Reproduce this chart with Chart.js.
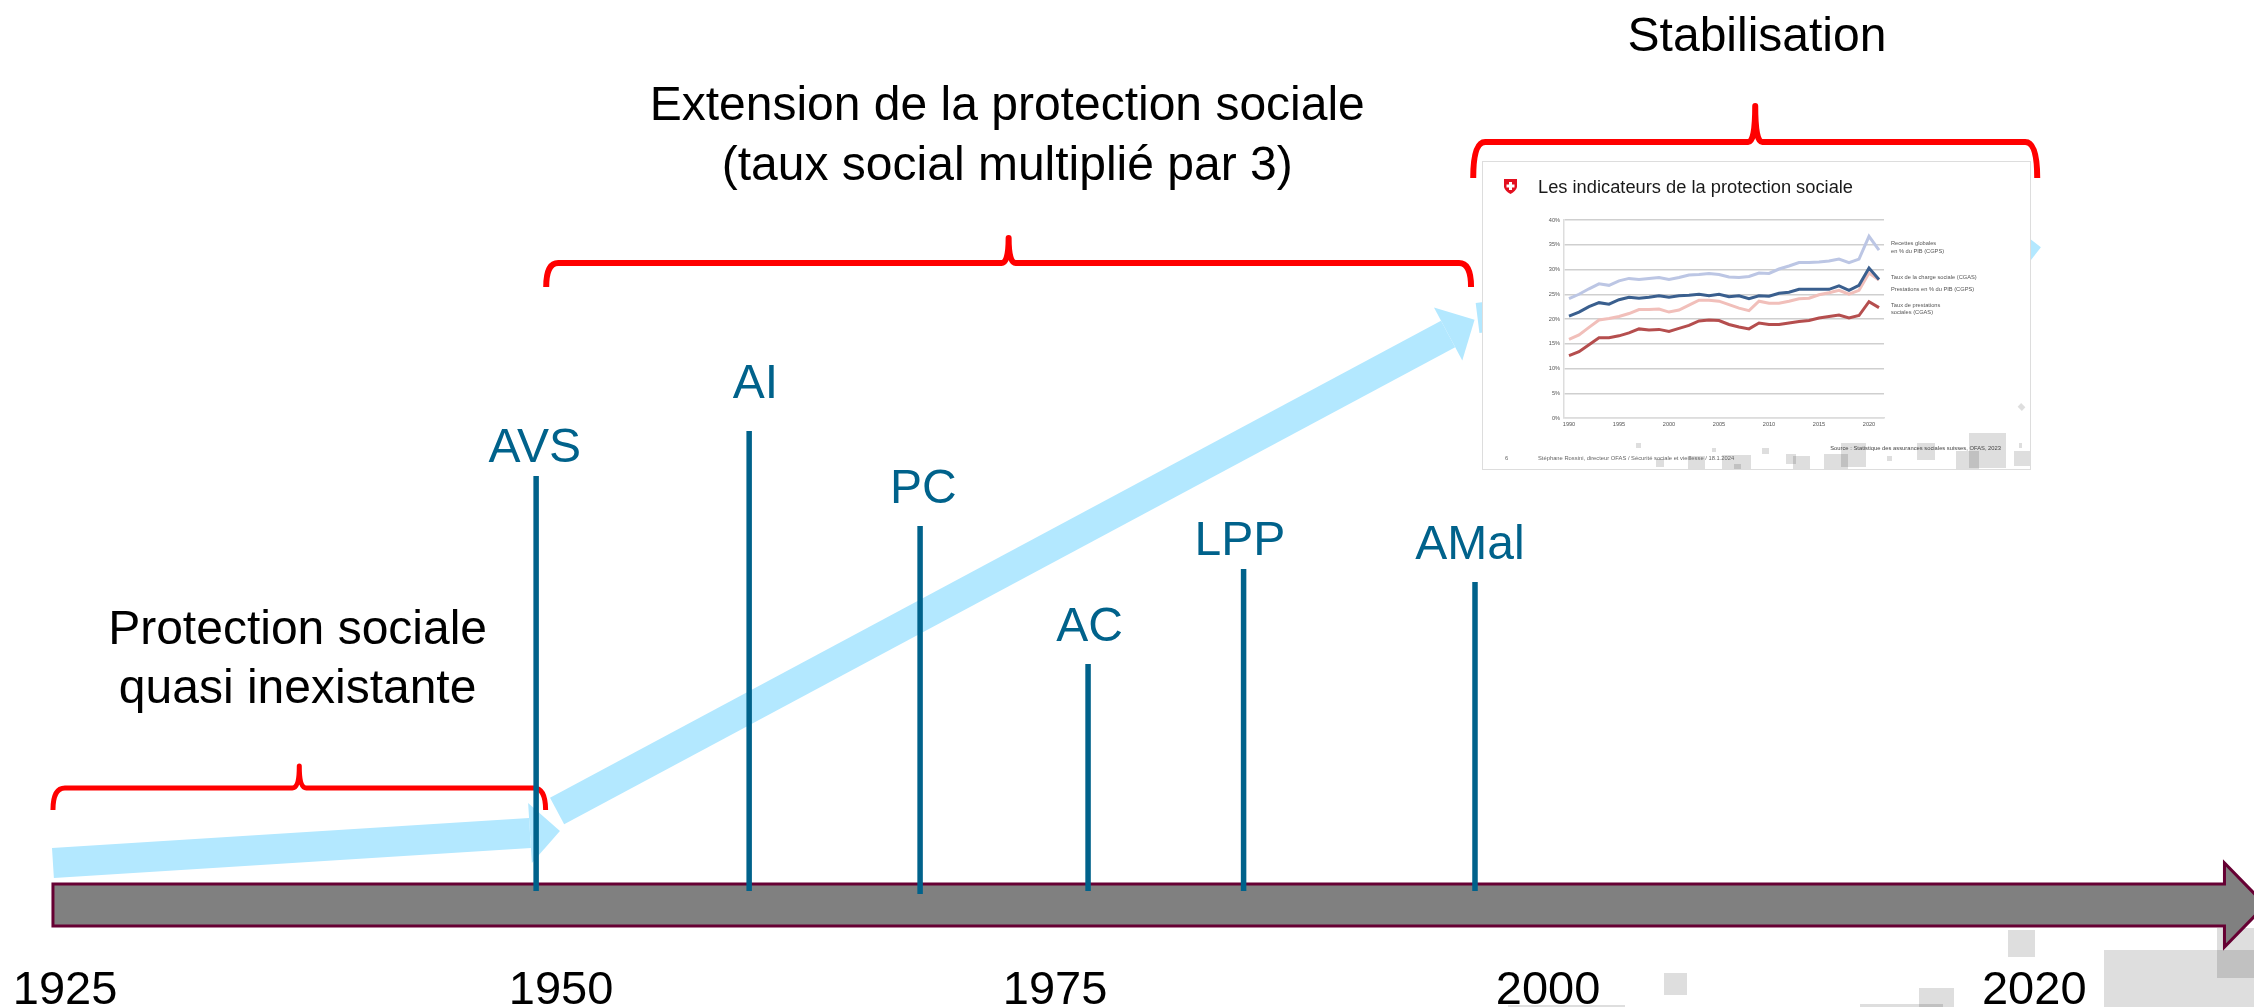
<!DOCTYPE html>
<html lang="fr">
<head>
<meta charset="utf-8">
<title>Protection sociale</title>
<script src="https://cdn.jsdelivr.net/npm/chart.js@4"></script>
<style>
html, body { margin: 0; padding: 0; background: #fff; overflow: hidden; }
#page { position: relative; width: 2254px; height: 1007px; overflow: hidden; }
#timeline { position: absolute; left: 0; top: 0; }
.sq { position: absolute; background: rgba(0,0,0,.13); }
#slide { position: absolute; left: 1482px; top: 161px; width: 547px; height: 307px; background: #fff; border: 1.5px solid #ddd; filter: blur(.7px); overflow: hidden; }
#slide canvas { position: absolute; left: 0; top: 0; }
</style>
</head>
<body>
<div id="page">
  <!-- carres decoratifs du fond -->
  <div class="sq" style="left:1664px;top:973px;width:23px;height:22px"></div>
  <div class="sq" style="left:1508px;top:1005px;width:117px;height:2px"></div>
  <div class="sq" style="left:1860px;top:1004px;width:83px;height:3px"></div>
  <div class="sq" style="left:1919px;top:988px;width:35px;height:19px"></div>
  <div class="sq" style="left:2008px;top:930px;width:27px;height:27px"></div>
  <div class="sq" style="left:2104px;top:950px;width:150px;height:57px"></div>
  <div class="sq" style="left:2217px;top:928px;width:37px;height:50px"></div>
  <canvas id="timeline" width="2254" height="1007"></canvas>
  <div id="slide">
    <div class="sq" style="left:153px;top:281px;width:5px;height:5px"></div>
    <div class="sq" style="left:229px;top:286px;width:4px;height:4px"></div>
    <div class="sq" style="left:173px;top:297px;width:8px;height:8px"></div>
    <div class="sq" style="left:205px;top:294px;width:17px;height:15px"></div>
    <div class="sq" style="left:239px;top:293px;width:29px;height:16px"></div>
    <div class="sq" style="left:251px;top:302px;width:7px;height:7px"></div>
    <div class="sq" style="left:279px;top:286px;width:7px;height:6px"></div>
    <div class="sq" style="left:303px;top:292px;width:10px;height:10px"></div>
    <div class="sq" style="left:310px;top:294px;width:17px;height:15px"></div>
    <div class="sq" style="left:341px;top:292px;width:24px;height:17px"></div>
    <div class="sq" style="left:358px;top:281px;width:25px;height:24px"></div>
    <div class="sq" style="left:404px;top:294px;width:5px;height:5px"></div>
    <div class="sq" style="left:434px;top:281px;width:18px;height:17px"></div>
    <div class="sq" style="left:473px;top:289px;width:23px;height:20px"></div>
    <div class="sq" style="left:486px;top:271px;width:37px;height:35px"></div>
    <div class="sq" style="left:531px;top:289px;width:16px;height:15px"></div>
    <div class="sq" style="left:536px;top:281px;width:3px;height:5px"></div>
    <div class="sq" style="left:536px;top:242px;width:5px;height:6px;transform:rotate(-45deg)"></div>
    <canvas id="indicators" width="547" height="307"></canvas>
  </div>
</div>
<script>
// frise chronologique
const eventNames = ['AVS', 'AI', 'PC', 'AC', 'LPP', 'AMal'];
const eventYears = [1948.99, 1959.77, 1968.42, 1976.92, 1984.79, 1996.5];
const eventLabelYears = [1948.92, 1960.09, 1968.58, 1977.0, 1984.6, 1996.24];
const eventTops = [484, 529, 434, 296, 391, 378];
const eventBottoms = [69, 69, 66, 69, 69, 69];
const eventLabelLevels = [511, 575, 470, 332, 418, 414];

const tickYears = [1925.15, 1950.25, 1975.25, 2000.2, 2024.8];
const tickLabels = ['1925', '1950', '1975', '2000', '2020'];

// fleches bleues : debut et base de la pointe
const arrowStartYears = [1924.54, 1950.05, 1996.63];
const arrowStartLevels = [97, 149, 642];
const arrowBaseYears = [1948.68, 1995.14, 2023.63];
const arrowBaseLevels = [127, 626, 709];

// accolades rouges
const braceFrom = [1924.54, 1949.5, 1996.41];
const braceTo = [1949.47, 1996.3, 2024.95];
const braceLevels = [172, 697, 818];
const braceEnds = [150, 673, 782];
const bracePips = [194, 722, 854];
const braceWidths = [5, 6, 6];

const captionLines = ['Protection sociale', 'quasi inexistante', 'Extension de la protection sociale', '(taux social multiplié par 3)', 'Stabilisation'];
const captionYears = [1936.92, 1936.92, 1972.83, 1972.83, 2010.77];
const captionLevels = [329, 270, 853, 793, 922];

const timelineFrom = 1924.54;
const timelineTo = 2036.5;
const timelineLevel = [34, 76];

// petit graphique des indicateurs
const indicatorYears = ['1990','1991','1992','1993','1994','1995','1996','1997','1998','1999','2000','2001','2002','2003','2004','2005','2006','2007','2008','2009','2010','2011','2012','2013','2014','2015','2016','2017','2018','2019','2020','2021'];
const recettesGlobales = [24.1, 25.0, 26.1, 27.1, 26.8, 27.7, 28.2, 28.0, 28.2, 28.4, 28.0, 28.4, 28.9, 29.0, 29.2, 29.0, 28.5, 28.4, 28.6, 29.3, 29.2, 30.1, 30.7, 31.4, 31.4, 31.5, 31.7, 32.1, 31.4, 32.1, 36.7, 33.9];
const chargeSociale = [20.6, 21.4, 22.5, 23.3, 23.0, 23.9, 24.4, 24.2, 24.4, 24.7, 24.4, 24.7, 24.8, 25.0, 24.7, 25.0, 24.5, 24.7, 24.1, 24.7, 24.6, 25.2, 25.4, 26.0, 26.0, 26.0, 26.0, 26.7, 25.8, 26.8, 30.3, 28.0];
const prestationsPib = [15.9, 16.8, 18.3, 19.8, 20.1, 20.5, 21.1, 21.9, 21.9, 22.0, 21.4, 21.8, 22.8, 23.8, 23.8, 23.6, 22.9, 22.2, 21.7, 23.6, 23.2, 23.2, 23.6, 24.1, 24.2, 24.9, 25.3, 25.8, 25.0, 25.8, 29.3, 27.9];
const prestationsSociales = [12.6, 13.4, 14.8, 16.2, 16.2, 16.6, 17.2, 18.0, 17.8, 17.9, 17.5, 18.1, 18.7, 19.6, 19.8, 19.7, 18.9, 18.4, 18.0, 19.2, 18.9, 18.9, 19.2, 19.5, 19.7, 20.2, 20.5, 20.8, 20.2, 20.7, 23.5, 22.3];

const BLUE = '#b3e8ff';
const TEAL = '#00628b';
const RED = '#ff0000';
const FONT = '"Liberation Sans", Arial, sans-serif';

function drawBrace(ctx, x0, x1, yLine, yEnd, yPip, width) {
    const cx = (x0 + x1) / 2;
    ctx.save();
    ctx.strokeStyle = RED;
    ctx.lineWidth = width;
    ctx.lineCap = 'butt';
    ctx.lineJoin = 'round';
    ctx.beginPath();
    ctx.moveTo(x0, yEnd);
    ctx.quadraticCurveTo(x0, yLine, x0 + 12, yLine);
    ctx.lineTo(cx - 7, yLine);
    ctx.quadraticCurveTo(cx, yLine, cx, yPip);
    ctx.quadraticCurveTo(cx, yLine, cx + 7, yLine);
    ctx.lineTo(x1 - 12, yLine);
    ctx.quadraticCurveTo(x1, yLine, x1, yEnd);
    ctx.stroke();
    ctx.restore();
}

// fleche grise, pointes bleues et accolades sous les traits
const underlayPlugin = {
    id: 'underlay',
    beforeDatasetsDraw(chart) {
        const { ctx, scales: { x, y } } = chart;
        const left = x.getPixelForValue(timelineFrom);
        const tip = x.getPixelForValue(timelineTo);
        const top = y.getPixelForValue(timelineLevel[1]);
        const bottom = y.getPixelForValue(timelineLevel[0]);
        const mid = (top + bottom) / 2;
        const shoulder = tip - 41;
        ctx.save();
        ctx.beginPath();
        ctx.moveTo(left, top);
        ctx.lineTo(shoulder, top);
        ctx.lineTo(shoulder, mid - 42);
        ctx.lineTo(tip, mid);
        ctx.lineTo(shoulder, mid + 42);
        ctx.lineTo(shoulder, bottom);
        ctx.lineTo(left, bottom);
        ctx.closePath();
        ctx.fillStyle = '#808080';
        ctx.fill();
        ctx.strokeStyle = '#660033';
        ctx.lineWidth = 3;
        ctx.stroke();

        ctx.fillStyle = BLUE;
        arrowBaseYears.forEach((year, i) => {
            const bx = x.getPixelForValue(year);
            const by = y.getPixelForValue(arrowBaseLevels[i]);
            const sx = x.getPixelForValue(arrowStartYears[i]);
            const sy = y.getPixelForValue(arrowStartLevels[i]);
            const angle = Math.atan2(by - sy, bx - sx);
            ctx.save();
            ctx.translate(bx, by);
            ctx.rotate(angle);
            ctx.beginPath();
            ctx.moveTo(30, 0);
            ctx.lineTo(0, -30);
            ctx.lineTo(0, 30);
            ctx.closePath();
            ctx.fill();
            ctx.restore();
        });
        ctx.restore();

        braceFrom.forEach((from, i) => {
            drawBrace(ctx, x.getPixelForValue(from), x.getPixelForValue(braceTo[i]),
                y.getPixelForValue(braceLevels[i]), y.getPixelForValue(braceEnds[i]),
                y.getPixelForValue(bracePips[i]), braceWidths[i]);
        });
    }
};

// textes de la frise
const labelsPlugin = {
    id: 'timelineLabels',
    afterDatasetsDraw(chart) {
        const { ctx, scales: { x, y } } = chart;
        ctx.save();
        ctx.font = '48px ' + FONT;
        ctx.textAlign = 'center';
        ctx.textBaseline = 'middle';
        ctx.fillStyle = '#000';
        captionLines.forEach((line, i) => {
            ctx.fillText(line, x.getPixelForValue(captionYears[i]), y.getPixelForValue(captionLevels[i]));
        });
        ctx.fillStyle = TEAL;
        eventNames.forEach((name, i) => {
            ctx.fillText(name, x.getPixelForValue(eventLabelYears[i]), y.getPixelForValue(eventLabelLevels[i]));
        });
        ctx.restore();
    }
};

const eventDatasets = eventNames.map((name, i) => ({
    label: name,
    data: [{ x: eventYears[i], y: eventBottoms[i] }, { x: eventYears[i], y: eventTops[i] }],
    borderColor: TEAL,
    borderWidth: 5.5,
    pointRadius: 0
}));

const arrowDatasets = arrowBaseYears.map((year, i) => ({
    label: 'Tendance ' + (i + 1),
    data: [{ x: arrowStartYears[i], y: arrowStartLevels[i] }, { x: year, y: arrowBaseLevels[i] }],
    borderColor: BLUE,
    borderWidth: 30,
    borderCapStyle: 'butt',
    pointRadius: 0
}));

new Chart(document.getElementById('timeline'), {
    type: 'line',
    data: { datasets: eventDatasets.concat(arrowDatasets) },
    plugins: [underlayPlugin, labelsPlugin],
    options: {
        responsive: false,
        animation: false,
        events: [],
        layout: { padding: 0 },
        plugins: { legend: { display: false }, tooltip: { enabled: false } },
        scales: {
            x: {
                type: 'linear',
                min: 1921.86,
                max: 2035.92,
                border: { display: false },
                grid: { display: false, drawTicks: false },
                afterBuildTicks: scale => { scale.ticks = tickYears.map(v => ({ value: v })); },
                afterFit: scale => { scale.height = 47; },
                ticks: {
                    autoSkip: false,
                    maxRotation: 0,
                    padding: 3,
                    color: '#000',
                    font: { family: FONT, size: 47 },
                    callback: (value, index) => tickLabels[index]
                }
            },
            y: { display: false, min: 0, max: 960 }
        }
    }
});

// diapositive en vignette
const slidePlugin = {
    id: 'slideTexts',
    afterDraw(chart) {
        const ctx = chart.ctx;
        ctx.save();
        // ecusson
        ctx.fillStyle = '#e30f1f';
        ctx.beginPath();
        ctx.moveTo(21, 17);
        ctx.lineTo(34, 17);
        ctx.lineTo(34, 25);
        ctx.quadraticCurveTo(33, 29, 27.5, 32);
        ctx.quadraticCurveTo(22, 29, 21, 25);
        ctx.closePath();
        ctx.fill();
        ctx.fillStyle = '#fff';
        ctx.fillRect(26, 20, 3, 8);
        ctx.fillRect(23.5, 22.5, 8, 3);

        ctx.textBaseline = 'middle';
        ctx.fillStyle = '#1a1a1a';
        ctx.font = '18.3px ' + FONT;
        ctx.fillText('Les indicateurs de la protection sociale', 55, 26);

        ctx.fillStyle = '#555';
        ctx.font = '5.7px ' + FONT;
        ctx.fillText('Recettes globales', 408, 81);
        ctx.fillText('en % du PIB (CGPS)', 408, 89);
        ctx.fillText('Taux de la charge sociale (CGAS)', 408, 115);
        ctx.fillText('Prestations en % du PIB (CGPS)', 408, 127);
        ctx.fillText('Taux de prestations', 408, 143);
        ctx.fillText('sociales (CGAS)', 408, 150);

        ctx.fillStyle = '#666';
        ctx.font = '5.8px ' + FONT;
        ctx.fillText('6', 22, 296);
        ctx.fillText('Stéphane Rossini, directeur OFAS / Sécurité sociale et vieillesse / 18.1.2024', 55, 296);
        ctx.textAlign = 'right';
        ctx.fillStyle = '#444';
        ctx.fillText('Source : Statistique des assurances sociales suisses, OFAS, 2023', 518, 286);
        ctx.restore();
    }
};

function indicatorSeries(label, values, color) {
    return { label, data: values, borderColor: color, borderWidth: 3, pointRadius: 0, tension: 0 };
}

new Chart(document.getElementById('indicators'), {
    type: 'line',
    data: {
        labels: indicatorYears,
        datasets: [
            indicatorSeries('Taux de prestations sociales (CGAS)', prestationsSociales, '#b54e4e'),
            indicatorSeries('Taux de la charge sociale (CGAS)', chargeSociale, '#3a5f8e'),
            indicatorSeries('Prestations en % du PIB (CGPS)', prestationsPib, '#f1bfba'),
            indicatorSeries('Recettes globales en % du PIB (CGPS)', recettesGlobales, '#bcc6e4')
        ]
    },
    plugins: [slidePlugin],
    options: {
        responsive: false,
        animation: false,
        events: [],
        layout: { padding: { top: 58, right: 146, left: 0, bottom: 0 } },
        plugins: { legend: { display: false }, tooltip: { enabled: false } },
        scales: {
            x: {
                offset: true,
                afterFit: scale => { scale.height = 51; },
                border: { color: '#ddd', width: 1.5 },
                grid: { display: false, drawTicks: false },
                ticks: {
                    autoSkip: false,
                    maxRotation: 0,
                    padding: 3,
                    color: '#555',
                    font: { family: FONT, size: 5.6 },
                    callback: function (value, index) {
                        return index % 5 === 0 ? indicatorYears[index] : '';
                    }
                }
            },
            y: {
                min: 0,
                max: 40,
                afterFit: scale => { scale.width = 81; },
                border: { color: '#ddd', width: 1.5 },
                grid: { color: '#cfcfcf', lineWidth: 1.4, drawTicks: false },
                ticks: {
                    stepSize: 5,
                    padding: 4,
                    color: '#555',
                    font: { family: FONT, size: 5.6 },
                    callback: value => value + '%'
                }
            }
        }
    }
});
</script>
</body>
</html>
